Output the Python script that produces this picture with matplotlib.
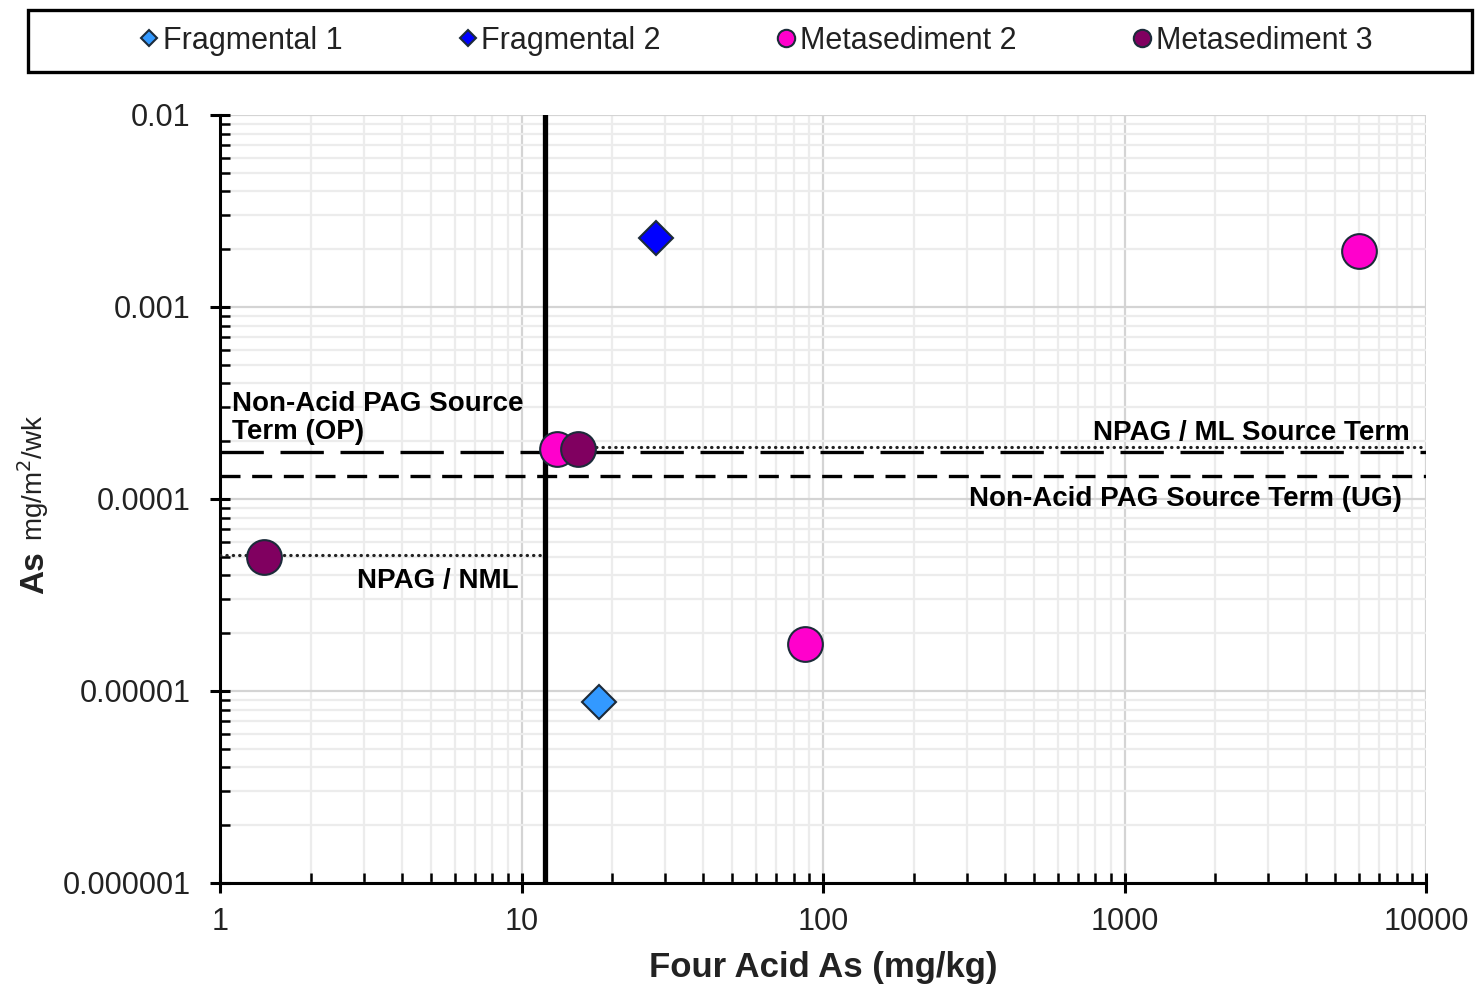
import numpy as np
import matplotlib
matplotlib.use("Agg")
import matplotlib.pyplot as plt
from matplotlib.patches import Rectangle
from matplotlib.ticker import LogLocator, NullFormatter, FixedLocator

plt.rcParams['font.family'] = ['Liberation Sans', 'DejaVu Sans']

# data
frag1_x = [18.1]
frag1_y = [8.8e-6]
frag2_x = [27.9]
frag2_y = [2.3e-3]
meta2_x = [13.1, 87.0, 6000.0]
meta2_y = [1.82e-4, 1.75e-5, 1.95e-3]
meta3_x = [15.4, 1.4]
meta3_y = [1.82e-4, 5.0e-5]

# threshold lines
x_thresh = 12.0
op_term = 1.75e-4
ug_term = 1.32e-4
ml_term = 1.87e-4
nml_term = 5.1e-5

xticks = [1, 10, 100, 1000, 10000]
xtick_labels = ["1", "10", "100", "1000", "10000"]
yticks = [1e-6, 1e-5, 1e-4, 1e-3, 1e-2]
ytick_labels = ["0.000001", "0.00001", "0.0001", "0.001", "0.01"]

W, H = 1476, 984
fig = plt.figure(figsize=(W / 100, H / 100), dpi=100)
ax = fig.add_axes([220/W, 1-883/H, (1426-220)/W, (883-115)/H])
ax.set_xscale('log')
ax.set_yscale('log')
ax.set_xlim(1, 1e4)
ax.set_ylim(1e-6, 1e-2)

# grid
ax.set_axisbelow(True)
ax.grid(True, which='major', color='#d4d4d4', lw=1.6)
ax.grid(True, which='minor', color='#ececec', lw=1.6)

# reference lines
ax.axvline(x_thresh, color='black', lw=3.8, zorder=3)
ax.plot([1, 1e4], [op_term, op_term], color='black', lw=2.4,
        linestyle=(0, (13, 5)), zorder=3)
ax.plot([1, 1e4], [ug_term, ug_term], color='black', lw=2.4,
        linestyle=(0, (6, 3.5)), zorder=3)
ax.plot([x_thresh, 9600], [ml_term, ml_term], color='#222222', lw=2.3,
        linestyle=(0, (0.1, 1.9)), dash_capstyle='round', zorder=3)
ax.plot([1, x_thresh], [nml_term, nml_term], color='#222222', lw=2.3,
        linestyle=(0, (0.1, 1.9)), dash_capstyle='round', zorder=3)

# data
edge = '#1c2b3a'
ax.plot(frag1_x, frag1_y, 'D', ms=17, mfc='#3399ff', mec=edge, mew=1.5,
        label='Fragmental 1', zorder=5)
ax.plot(frag2_x, frag2_y, 'D', ms=17, mfc='#0000ff', mec=edge, mew=1.5,
        label='Fragmental 2', zorder=5)
ax.plot(meta2_x, meta2_y, 'o', ms=25, mfc='#ff00cc', mec=edge, mew=1.5,
        label='Metasediment 2', zorder=5)
ax.plot(meta3_x, meta3_y, 'o', ms=25, mfc='#800060', mec=edge, mew=1.5,
        label='Metasediment 3', zorder=6)

# annotations
bold = dict(fontsize=20, fontweight='bold', color='black', zorder=7)
ax.text(1.10, 2.64e-4, "Non-Acid PAG Source\nTerm (OP)", ha='left', va='center',
        linespacing=1.12, **bold)
ax.text(8850, 2.21e-4, "NPAG / ML Source Term", ha='right', va='center', **bold)
ax.text(8320, 1.0e-4, "Non-Acid PAG Source Term (UG)", ha='right', va='center', **bold)
ax.text(9.8, 3.75e-5, "NPAG / NML", ha='right', va='center', **bold)

# axes styling
for s in ['top', 'right']:
    ax.spines[s].set_visible(False)
for s in ['left', 'bottom']:
    ax.spines[s].set_linewidth(2.2)

ax.xaxis.set_major_locator(FixedLocator(xticks))
ax.set_xticklabels(xtick_labels)
ax.yaxis.set_major_locator(FixedLocator(yticks))
ax.set_yticklabels(ytick_labels)
ax.xaxis.set_minor_locator(LogLocator(base=10, subs=np.arange(2, 10), numticks=20))
ax.yaxis.set_minor_locator(LogLocator(base=10, subs=np.arange(2, 10), numticks=20))
ax.xaxis.set_minor_formatter(NullFormatter())
ax.yaxis.set_minor_formatter(NullFormatter())
ax.tick_params(which='major', direction='inout', length=14, width=2.2,
               labelsize=22, colors='black', labelcolor='#222222')
ax.tick_params(which='minor', direction='in', length=7, width=1.8)
ax.tick_params(axis='y', which='major', pad=14)
ax.tick_params(axis='x', which='major', pad=10)

ax.set_xlabel("Four Acid As (mg/kg)", fontsize=25, fontweight='bold', labelpad=10,
              color='#222222')
fig.text(43/W, 1-594/H, "As", rotation=90, rotation_mode='anchor', fontsize=24,
         fontweight='bold', ha='left', va='baseline', color='#222222')
fig.text(43/W, 1-541/H, "mg/m$^2$/wk", rotation=90, rotation_mode='anchor',
         fontsize=20, ha='left', va='baseline', color='#222222')

# legend box across the top
fig.patches.append(Rectangle((28/W, 1-72/H), 1444/W, 62/H, transform=fig.transFigure,
                             fill=False, edgecolor='black', lw=2.4))
leg = fig.legend(loc='center', ncol=4, bbox_to_anchor=(756/W, 1-41/H),
                 fontsize=22, markerscale=0.5, handlelength=0.6,
                 handletextpad=0.15, columnspacing=3.8, frameon=False,
                 borderaxespad=0.0)
for t in leg.get_texts():
    t.set_color('#222222')

fig.savefig("out.png", dpi=100)
